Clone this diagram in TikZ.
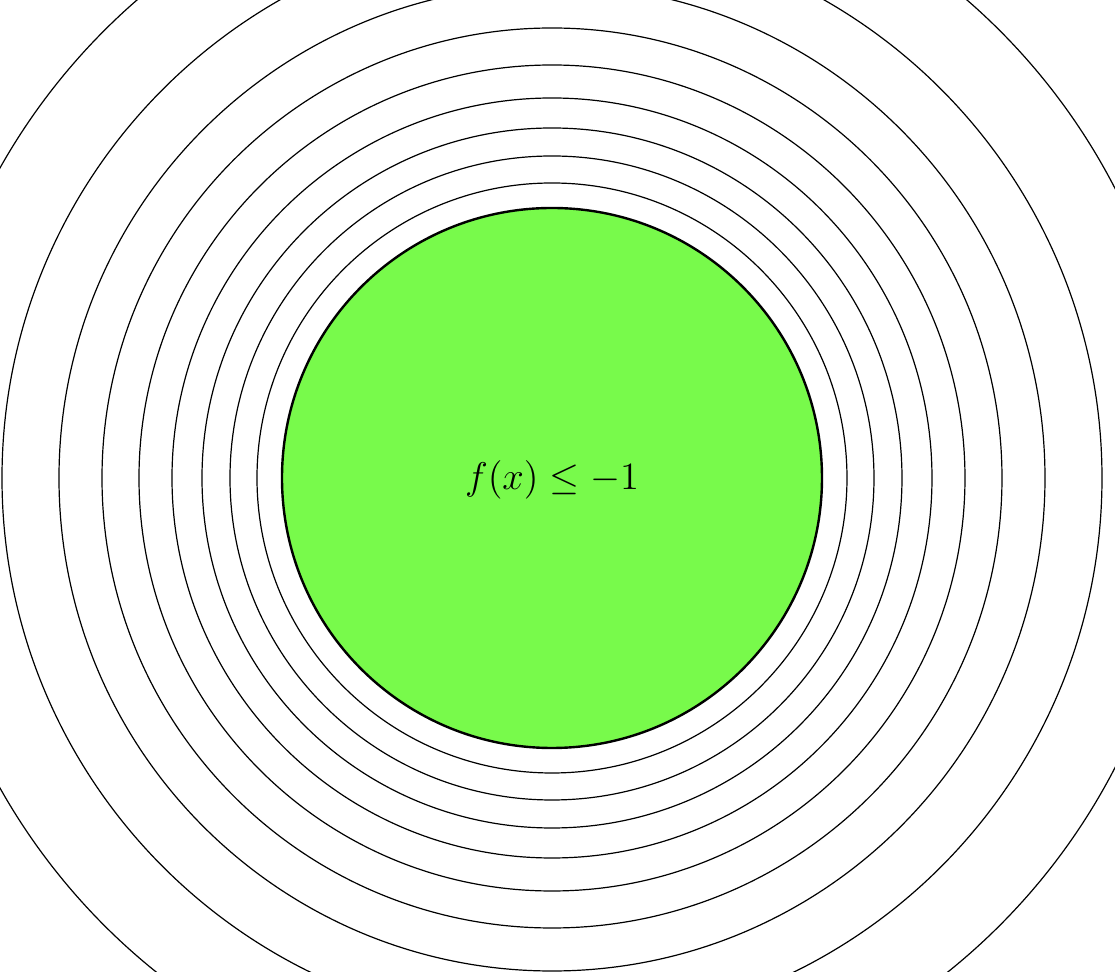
\documentclass[tikz,border=0pt]{standalone}
\begin{document}
\begin{tikzpicture}[x=1pt,y=1pt,
  ring/.style={draw=black,line width=0.6pt},
  setregion/.style={draw=black,line width=1.2pt,fill=setgreen}]
\definecolor{setgreen}{RGB}{120,250,75}
\useasboundingbox (-276,-247) rectangle (281.5,239);
\clip (-276,-247) rectangle (281.5,239);
\foreach \r in {147.5,161,175,190,206.5,225,246.5,275,316.5}
  \draw[ring] (0,0) circle (\r);
\draw[setregion] (0,0) circle (135);
\node[font=\Large,scale=1.34,transform shape] (lbl) at (0,-1) {$f(x)\leq -1$};
\end{tikzpicture}
\end{document}
